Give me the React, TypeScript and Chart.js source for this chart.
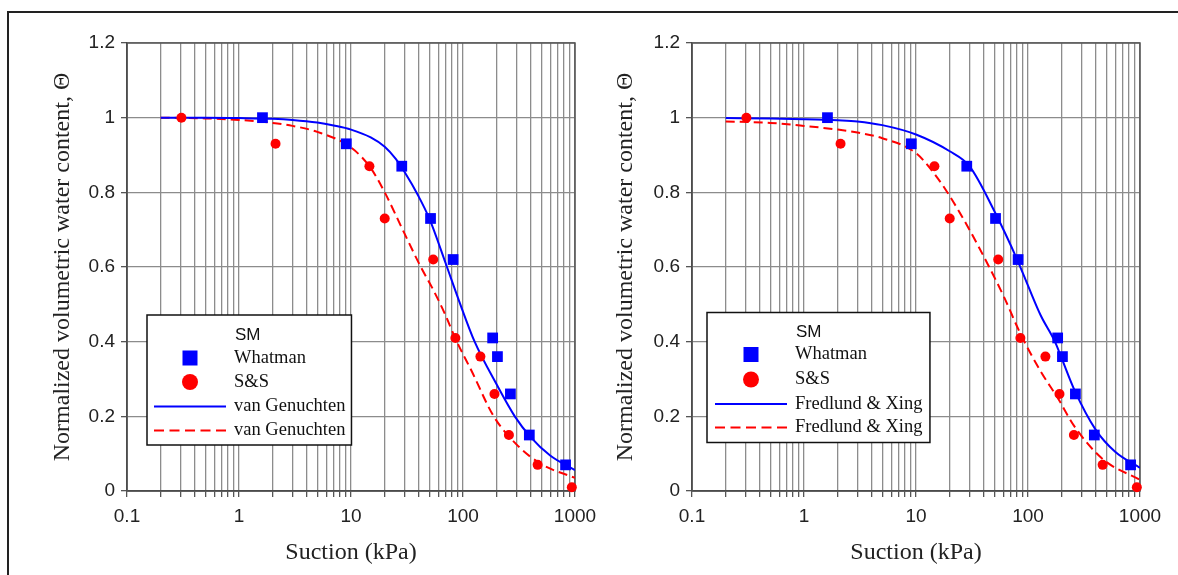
import React, { useEffect, useRef } from 'react';
import { Chart, registerables } from 'chart.js';

Chart.register(...registerables);

// ---------- data ----------
const whatmanSuction = [1.62, 9.08, 28.4, 51.3, 81.6, 184, 203, 265, 391, 824];
const whatmanTheta = [1.0, 0.93, 0.87, 0.73, 0.62, 0.41, 0.36, 0.26, 0.15, 0.07];

const ssSuction = [0.306, 2.12, 14.6, 20, 54.2, 85.5, 143, 191, 257, 464, 937];
const ssTheta = [1.0, 0.93, 0.87, 0.73, 0.62, 0.41, 0.36, 0.26, 0.15, 0.07, 0.01];

// van Genuchten fits (left panel)
const vgWhatmanSuction = [0.2, 0.5, 1, 2, 3, 5, 7, 10, 15, 20, 25, 30, 40, 50, 70, 92, 127, 200, 290, 400, 600, 1000];
const vgWhatmanTheta = [1.0, 1.0, 0.999, 0.997, 0.994, 0.987, 0.979, 0.968, 0.947, 0.922, 0.89, 0.855, 0.79, 0.73, 0.61, 0.51, 0.4, 0.285, 0.2, 0.145, 0.095, 0.056];
const vgSSSuction = [0.2, 0.5, 1, 2, 3, 5, 10, 15, 20, 30, 42, 54, 70, 85, 120, 188, 300, 500, 1000];
const vgSSTheta = [1.0, 0.998, 0.994, 0.986, 0.978, 0.962, 0.92, 0.865, 0.8, 0.69, 0.6, 0.54, 0.47, 0.41, 0.32, 0.2, 0.125, 0.072, 0.035];

// Fredlund & Xing fits (right panel)
const fxWhatmanSuction = [0.2, 0.5, 1, 2, 3, 5, 10, 20, 30, 50, 80, 100, 130, 174, 200, 260, 400, 600, 1000];
const fxWhatmanTheta = [0.999, 0.998, 0.996, 0.993, 0.99, 0.98, 0.955, 0.91, 0.87, 0.75, 0.62, 0.55, 0.47, 0.4, 0.355, 0.27, 0.165, 0.105, 0.062];
const fxSSSuction = [0.2, 0.5, 1, 2, 3, 5, 10, 15, 20, 30, 45, 61, 86, 130, 188, 257, 467, 1000];
const fxSSTheta = [0.99, 0.986, 0.978, 0.968, 0.96, 0.945, 0.905, 0.845, 0.79, 0.7, 0.6, 0.52, 0.42, 0.32, 0.245, 0.175, 0.085, 0.03];

// axes
const xGridValues = [
  0.1, 0.2, 0.3, 0.4, 0.5, 0.6, 0.7, 0.8, 0.9,
  1, 2, 3, 4, 5, 6, 7, 8, 9,
  10, 20, 30, 40, 50, 60, 70, 80, 90,
  100, 200, 300, 400, 500, 600, 700, 800, 900,
  1000,
];
const xLabelValues = [0.1, 1, 10, 100, 1000];
const xTickLabels = ['0.1', '1', '10', '100', '1000'];
const yTickValues = [0, 0.2, 0.4, 0.6, 0.8, 1, 1.2];
const yTickLabels = ['0', '0.2', '0.4', '0.6', '0.8', '1', '1.2'];

const legendTitle = 'SM';
const seriesWhatman = 'Whatman';
const seriesSS = 'S&S';
const xTitle = 'Suction (kPa)';
const yTitle = 'Normalized volumetric water content, \u0398';

const BLUE = '#0000ff';
const RED = '#ff0000';
const SERIF = '"Liberation Serif", "Times New Roman", serif';
const SANS = '"Liberation Sans", Arial, sans-serif';

// ---------- plugins ----------
const areaFrame = {
  id: 'areaFrame',
  beforeDatasetsDraw(chart: any) {
    const { ctx, chartArea: a } = chart;
    ctx.save();
    ctx.strokeStyle = '#555';
    ctx.lineWidth = 1.5;
    ctx.strokeRect(a.left, a.top, a.right - a.left, a.bottom - a.top);
    ctx.restore();
  },
};

const inlineLegend = {
  id: 'inlineLegend',
  afterDatasetsDraw(chart: any, _args: any, o: any) {
    if (!o || !o.display) return;
    const { ctx, chartArea } = chart;
    const x0 = chartArea.left + o.dx;
    const y0 = chartArea.top + o.dy;
    ctx.save();
    ctx.font = `${o.fontSize}px ${SERIF}`;
    const labels = chart.data.datasets.map((d: any) => d.label);
    const tw = Math.max(...labels.map((l: string) => ctx.measureText(l).width));
    const w = o.textX + tw + o.padRight;
    ctx.fillStyle = '#fff';
    ctx.fillRect(x0, y0, w, o.height);
    ctx.strokeStyle = '#111';
    ctx.lineWidth = 1.5;
    ctx.strokeRect(x0, y0, w, o.height);

    ctx.textBaseline = 'middle';
    ctx.textAlign = 'left';
    ctx.fillStyle = '#111';
    ctx.font = `17px ${SANS}`;
    ctx.fillText(o.title, x0 + o.textX + 1, y0 + o.rows[0]);

    chart.data.datasets.forEach((ds: any, i: number) => {
      const cy = y0 + o.rows[i + 1];
      if (ds.showLine) {
        ctx.save();
        ctx.strokeStyle = ds.borderColor;
        ctx.lineWidth = 2;
        ctx.setLineDash(ds.borderDash && ds.borderDash.length ? [10, 5.5] : []);
        ctx.beginPath();
        ctx.moveTo(x0 + o.lineX[0], cy);
        ctx.lineTo(x0 + o.lineX[1], cy);
        ctx.stroke();
        ctx.restore();
      } else {
        ctx.fillStyle = ds.backgroundColor;
        const cx = x0 + o.markerX;
        if (ds.pointStyle === 'rect') {
          ctx.fillRect(cx - 7.5, cy - 7.5, 15, 15);
        } else {
          ctx.beginPath();
          ctx.arc(cx, cy, 8, 0, Math.PI * 2);
          ctx.fill();
        }
      }
      ctx.fillStyle = '#111';
      ctx.font = `${o.fontSize}px ${SERIF}`;
      ctx.fillText(ds.label, x0 + o.textX, cy);
    });
    ctx.restore();
  },
};

function pts(xs: number[], ys: number[]) {
  return xs.map((x, i) => ({ x, y: ys[i] }));
}

function makeConfig(
  fitName: string,
  fitW: { xs: number[]; ys: number[] },
  fitS: { xs: number[]; ys: number[] },
  geom: any,
  legend: any
) {
  return {
    type: 'scatter',
    data: {
      datasets: [
        {
          label: seriesWhatman,
          data: pts(whatmanSuction, whatmanTheta),
          pointStyle: 'rect',
          pointRadius: 7.6,
          backgroundColor: BLUE,
          borderColor: BLUE,
          borderWidth: 0,
          clip: false,
        },
        {
          label: seriesSS,
          data: pts(ssSuction, ssTheta),
          pointStyle: 'circle',
          pointRadius: 5,
          backgroundColor: RED,
          borderColor: RED,
          borderWidth: 0,
          clip: false,
        },
        {
          label: fitName,
          data: pts(fitW.xs, fitW.ys),
          showLine: true,
          pointRadius: 0,
          borderColor: BLUE,
          backgroundColor: BLUE,
          borderWidth: 2,
          cubicInterpolationMode: 'monotone',
        },
        {
          label: fitName,
          data: pts(fitS.xs, fitS.ys),
          showLine: true,
          pointRadius: 0,
          borderColor: RED,
          backgroundColor: RED,
          borderWidth: 2,
          borderDash: [9, 5],
          cubicInterpolationMode: 'monotone',
        },
      ],
    },
    options: {
      animation: false,
      responsive: false,
      maintainAspectRatio: false,
      events: [],
      layout: { padding: { top: 29, right: geom.padRight, left: 0, bottom: 0 } },
      plugins: {
        legend: { display: false },
        tooltip: { enabled: false },
        inlineLegend: legend,
      },
      scales: {
        x: {
          type: 'logarithmic',
          min: 0.1,
          max: 1000,
          afterBuildTicks: (s: any) => {
            s.ticks = xGridValues.map((v) => ({ value: v, major: xLabelValues.includes(v) }));
          },
          afterFit: (s: any) => {
            s.height = 84;
            s.paddingLeft = 0;
            s.paddingRight = 0;
          },
          ticks: {
            autoSkip: false,
            maxRotation: 0,
            minRotation: 0,
            padding: 8,
            color: '#222',
            font: { family: SANS, size: 19 },
            callback: (v: number) => {
              const k = xLabelValues.indexOf(v);
              return k >= 0 ? xTickLabels[k] : '';
            },
          },
          grid: { color: '#8c8c8c', lineWidth: 1.3, tickLength: 6, tickColor: '#555' },
          border: { color: '#333', width: 1.5 },
          title: {
            display: true,
            text: xTitle,
            color: '#222',
            font: { family: SERIF, size: 24 },
            padding: { top: 0, bottom: 7.6 },
          },
        },
        y: {
          type: 'linear',
          min: 0,
          max: 1.2,
          afterBuildTicks: (s: any) => {
            s.ticks = yTickValues.map((v) => ({ value: v }));
          },
          afterFit: (s: any) => {
            s.width = geom.yWidth;
            s.paddingTop = 0;
            s.paddingBottom = 0;
          },
          ticks: {
            padding: 6,
            color: '#222',
            font: { family: SANS, size: 19 },
            callback: (v: number) => {
              const k = yTickValues.findIndex((t) => Math.abs(t - v) < 1e-6);
              return k >= 0 ? yTickLabels[k] : '';
            },
          },
          grid: { color: '#8c8c8c', lineWidth: 1.3, tickLength: 6, tickColor: '#555' },
          border: { color: '#333', width: 1.5 },
          title: {
            display: true,
            text: yTitle,
            color: '#222',
            font: { family: SERIF, size: 24 },
            padding: { top: geom.yTitlePad, bottom: 0 },
          },
        },
      },
    },
    plugins: [areaFrame, inlineLegend],
  } as any;
}

function Panel(props: { cfg: any; left: number; width: number }) {
  const ref = useRef<HTMLCanvasElement>(null);
  useEffect(() => {
    const chart = new Chart(ref.current as HTMLCanvasElement, props.cfg);
    return () => chart.destroy();
  }, []);
  return (
    <canvas
      ref={ref}
      width={props.width}
      height={561}
      style={{ position: 'absolute', left: props.left, top: 14, width: props.width, height: 561 }}
    />
  );
}

export default function App() {
  const leftCfg = makeConfig(
    'van Genuchten',
    { xs: vgWhatmanSuction, ys: vgWhatmanTheta },
    { xs: vgSSSuction, ys: vgSSTheta },
    { padRight: 22, yWidth: 117, yTitlePad: 38.6 },
    {
      display: true,
      title: legendTitle,
      dx: 20,
      dy: 272,
      rows: [20, 43, 67, 91.5, 115.5],
      height: 130,
      markerX: 43,
      lineX: [7, 79],
      textX: 87,
      padRight: 6,
      fontSize: 18.5,
    }
  );
  const rightCfg = makeConfig(
    'Fredlund & Xing',
    { xs: fxWhatmanSuction, ys: fxWhatmanTheta },
    { xs: fxSSSuction, ys: fxSSTheta },
    { padRight: 35, yWidth: 94, yTitlePad: 13.6 },
    {
      display: true,
      title: legendTitle,
      dx: 15,
      dy: 269.5,
      rows: [19.5, 42, 67, 91.5, 115],
      height: 130,
      markerX: 44,
      lineX: [8, 80],
      textX: 88,
      padRight: 7.5,
      fontSize: 18.5,
    }
  );
  return (
    <div style={{ position: 'fixed', left: 0, top: 0, width: 1178, height: 575, background: '#fff', overflow: 'hidden' }}>
      <div
        style={{
          position: 'absolute',
          left: 7,
          top: 11,
          width: 1200,
          height: 600,
          borderTop: '2px solid #222',
          borderLeft: '2px solid #222',
        }}
      />
      <Panel cfg={leftCfg} left={10} width={587} />
      <Panel cfg={rightCfg} left={598} width={577} />
    </div>
  );
}
